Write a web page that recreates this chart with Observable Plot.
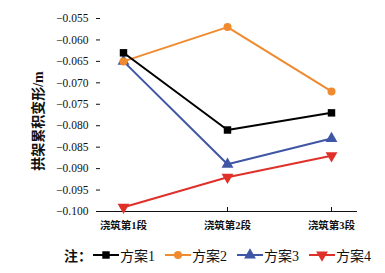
<!DOCTYPE html>
<html><head><meta charset="utf-8">
<script src="https://cdn.jsdelivr.net/npm/d3@7"></script>
<script src="https://cdn.jsdelivr.net/npm/@observablehq/plot@0.6"></script>
<style>
body{margin:0;background:#fff;font-family:"Liberation Serif","Noto Sans CJK SC",serif;}
#wrap{width:385px;height:273px;position:relative;overflow:hidden;}
#legend{position:absolute;left:64px;top:245px;font-size:14px;display:flex;align-items:center;white-space:nowrap;color:#111;}
#legend .it{display:flex;align-items:center;margin-right:9px;}
#legend svg{display:block;}
</style></head>
<body><div id="wrap"><div id="chart"></div><div id="legend"></div></div>
<script>
const stages = ["浇筑第1段","浇筑第2段","浇筑第3段"];
const seriesNames = ["方案1","方案2","方案3","方案4"];
const plan1 = [-0.063,-0.081,-0.077];
const plan2 = [-0.065,-0.057,-0.072];
const plan3 = [-0.065,-0.089,-0.083];
const plan4 = [-0.099,-0.092,-0.087];
const yTicks = [-0.100,-0.095,-0.090,-0.085,-0.080,-0.075,-0.070,-0.065,-0.060,-0.055];
const colors = ["#000000","#F08A2E","#3F55A5","#E0302A"];

const triDown = {draw(ctx, size){
  const s = Math.sqrt(size/ (Math.sqrt(3)/4)) ; const h = s*Math.sqrt(3)/2;
  ctx.moveTo(-s/2,-h/3); ctx.lineTo(s/2,-h/3); ctx.lineTo(0,2*h/3); ctx.closePath();
}};
const triUp = {draw(ctx, size){
  const s = Math.sqrt(size/ (Math.sqrt(3)/4)) ; const h = s*Math.sqrt(3)/2;
  ctx.moveTo(-s/2,h/3); ctx.lineTo(s/2,h/3); ctx.lineTo(0,-2*h/3); ctx.closePath();
}};
const symbols = [d3.symbolSquare, d3.symbolCircle, triUp, triDown];
const sizes = [4.2, 4, 4.4, 4.4];

const data = [];
[plan1,plan2,plan3,plan4].forEach((arr,i)=>arr.forEach((v,j)=>data.push({stage:stages[j],series:seriesNames[i],value:v,idx:i})));

const marks = [];
for (let i = 3; i >= 0; i--) {
  const d = data.filter(r=>r.idx===i);
  marks.push(Plot.line(d,{x:"stage",y:"value",stroke:colors[i],strokeWidth:2}));
}
for (let i = 3; i >= 0; i--) {
  const d = data.filter(r=>r.idx===i);
  marks.push(Plot.dot(d,{x:"stage",y:"value",fill:colors[i],stroke:"none",symbol:()=>symbols[i],r:sizes[i]}));
}

const chart = Plot.plot({
  width:385, height:236,
  marginLeft:96, marginRight:28, marginTop:18, marginBottom:25,
  style:{fontFamily:'"Liberation Serif","Noto Sans CJK SC",serif',fontSize:"11.5px",color:"#111",background:"#fff"},
  symbol:{type:"identity"},
  x:{type:"point",domain:stages,padding:0.25},
  y:{domain:[-0.100,-0.055]},
  marks:[
    Plot.axisY({ticks:yTicks,tickFormat:d3.format(".3f"),tickSize:-4,tickPadding:12,label:null,stroke:"#111"}),
    Plot.axisX({tickSize:-4,tickPadding:14,label:null,fontWeight:"bold",fontSize:10.5}),
    Plot.ruleX([stages[0]],{x:()=>null,frameAnchor:"left",stroke:"#111",strokeWidth:1.2}),
    Plot.ruleY([-0.100],{stroke:"#111",strokeWidth:1.2}),
    Plot.text(["拱架累积变形/m"],{frameAnchor:"left",textAnchor:"middle",dx:-58,dy:6,rotate:-90,fontSize:14,fontWeight:"bold",fill:"#111"}),
    ...marks
  ]
});
document.getElementById("chart").appendChild(chart);

const leg = document.getElementById("legend");
const lab = document.createElement("span"); lab.textContent="注："; lab.style.fontWeight="bold"; leg.appendChild(lab);
seriesNames.forEach((n,i)=>{
  const it=document.createElement("span"); it.className="it";
  const sw=d3.create("svg").attr("width",28).attr("height",14);
  sw.append("line").attr("x1",1).attr("x2",27).attr("y1",7).attr("y2",7).attr("stroke",colors[i]).attr("stroke-width",2);
  const sym=d3.symbol().type(symbols[i]).size(Math.PI*sizes[i]*sizes[i]);
  sw.append("path").attr("d",sym()).attr("transform","translate(14,7)").attr("fill",colors[i]);
  it.appendChild(sw.node());
  const t=document.createElement("span"); t.textContent=n; it.appendChild(t);
  leg.appendChild(it);
});
</script></body></html>
